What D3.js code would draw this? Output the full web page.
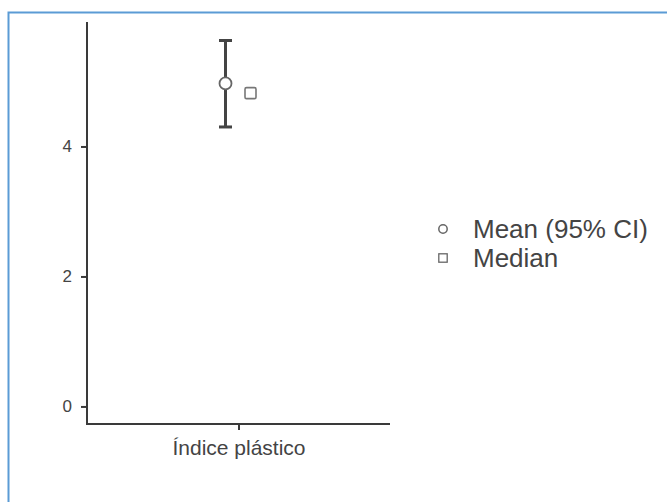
<!DOCTYPE html>
<html><head><meta charset="utf-8">
<script src="https://cdn.jsdelivr.net/npm/d3@7"></script>
<style>
html,body{margin:0;padding:0;background:#fff;overflow:hidden;}
svg{display:block;font-family:"Liberation Sans",Arial,sans-serif;}
</style></head>
<body>
<script>
const categories = ["Índice plástico"];
const meanValues = [4.97];
const ciLower = [4.30];
const ciUpper = [5.63];
const medianValues = [4.82];
const yTicks = [0, 2, 4];
const legendLabels = ["Mean (95% CI)", "Median"];

const W = 667, H = 502;
const svg = d3.select("body").append("svg").attr("width", W).attr("height", H);

// frame
svg.append("rect").attr("x", 8.5).attr("y", 12.5).attr("width", 700).attr("height", 600)
  .attr("fill", "none").attr("stroke", "#5b9bd5").attr("stroke-width", 2);

const x = d3.scalePoint().domain(categories).range([87, 390]).padding(0.5);
const y = d3.scaleLinear().domain([-0.27, 5.915]).range([424, 22]);

const axisColor = "#3a3a3a";
// y axis
const gy = svg.append("g").attr("transform", "translate(87,0)")
  .call(d3.axisLeft(y).tickValues(yTicks).tickSize(6).tickPadding(9).tickFormat(d3.format("d")));
gy.select(".domain").attr("d", `M0,${y.range()[0]+1}V${y.range()[1]}`).attr("stroke", axisColor).attr("stroke-width", 2);
gy.selectAll(".tick line").attr("stroke", axisColor).attr("stroke-width", 2);
gy.selectAll(".tick text").attr("font-size", 17).attr("fill", "#444").attr("font-family", "Liberation Sans, Arial, sans-serif");

// x axis
const gx = svg.append("g").attr("transform", "translate(0,424)")
  .call(d3.axisBottom(x).tickSize(6).tickPadding(10));
gx.select(".domain").attr("d", `M86,0H390`).attr("stroke", axisColor).attr("stroke-width", 2);
gx.selectAll(".tick line").attr("stroke", axisColor).attr("stroke-width", 2);
gx.selectAll(".tick text").attr("font-size", 21).attr("fill", "#444").attr("font-family", "Liberation Sans, Arial, sans-serif");

const meanOff = -13, medOff = 12, capHalf = 6.5;
const data = categories.map((c, i) => ({c, mean: meanValues[i], lo: ciLower[i], hi: ciUpper[i], med: medianValues[i]}));

const g = svg.append("g");
data.forEach(d => {
  const cx = x(d.c) + meanOff;
  g.append("line").attr("x1", cx).attr("x2", cx).attr("y1", y(d.lo)).attr("y2", y(d.hi))
    .attr("stroke", "#444").attr("stroke-width", 3);
  [d.lo, d.hi].forEach(v => g.append("line").attr("x1", cx - capHalf).attr("x2", cx + capHalf)
    .attr("y1", y(v)).attr("y2", y(v)).attr("stroke", "#444").attr("stroke-width", 3));
  g.append("circle").attr("cx", cx).attr("cy", y(d.mean)).attr("r", 6)
    .attr("fill", "#fff").attr("stroke", "#666").attr("stroke-width", 1.8);
  const mx = x(d.c) + medOff;
  g.append("rect").attr("x", mx - 5.5).attr("y", y(d.med) - 5.5).attr("width", 11).attr("height", 11)
    .attr("rx", 1.5).attr("fill", "#fff").attr("stroke", "#777").attr("stroke-width", 1.6);
});

// legend
const lg = svg.append("g").attr("transform", "translate(443,229)");
legendLabels.forEach((t, i) => {
  const row = lg.append("g").attr("transform", `translate(0,${i*29})`);
  if (i === 0) row.append("circle").attr("r", 4.2).attr("fill", "#fff").attr("stroke", "#666").attr("stroke-width", 1.5);
  else row.append("rect").attr("x", -4.2).attr("y", -4.2).attr("width", 8.4).attr("height", 8.4)
    .attr("fill", "#fff").attr("stroke", "#666").attr("stroke-width", 1.3);
  row.append("text").attr("x", 30).attr("dy", "0.35em").attr("font-size", 26).attr("fill", "#444").text(t);
});
</script>
</body></html>
